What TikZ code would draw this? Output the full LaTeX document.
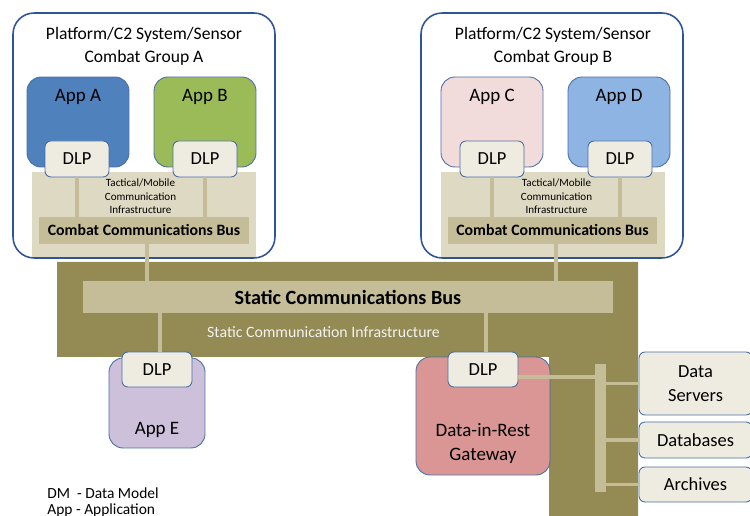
\documentclass[tikz,border=0pt]{standalone}
\usepackage{fontspec}
\setmainfont{Carlito}
\usetikzlibrary{positioning}

\definecolor{grpline}{HTML}{2F5597}
\definecolor{boxline}{HTML}{4A6FA5}
\definecolor{appblue}{HTML}{4F81BD}
\definecolor{appgreen}{HTML}{9BBB59}
\definecolor{apppink}{HTML}{F2DCDB}
\definecolor{applight}{HTML}{8DB4E2}
\definecolor{applilac}{HTML}{CCC0DA}
\definecolor{gatered}{HTML}{DA9694}
\definecolor{dlpfill}{HTML}{EEECE1}
\definecolor{tacfill}{HTML}{DDD9C3}
\definecolor{busfill}{HTML}{C4BD97}
\definecolor{staticfill}{HTML}{948A54}
\definecolor{infratext}{HTML}{F2F2F2}

\begin{document}
\begin{tikzpicture}[x=0.02cm, y=-0.02cm,
    group/.style={draw=grpline, line width=0.9pt, fill=white, rounded corners=0.42cm,
        minimum width=5.24cm, minimum height=4.9cm},
    app/.style={draw=boxline, line width=0.5pt, rounded corners=0.28cm,
        minimum width=2.04cm, minimum height=1.8cm},
    apptext/.style={anchor=base, inner sep=0pt, font=\fontsize{10.8}{12}\selectfont},
    dlp/.style={draw=boxline, line width=0.5pt, fill=dlpfill, rounded corners=0.12cm,
        minimum width=1.28cm, minimum height=0.72cm, font=\fontsize{10.5}{12}\selectfont},
    store/.style={dlp, minimum width=2.26cm, align=center, font=\fontsize{10.5}{14}\selectfont},
    tac/.style={fill=tacfill, minimum width=4.48cm, minimum height=1.7cm},
    bus/.style={fill=busfill, minimum width=4.2cm, minimum height=0.54cm,
        font=\bfseries\fontsize{9}{11}\selectfont},
    title/.style={align=center, font=\fontsize{10}{13}\selectfont},
    tactext/.style={align=center, font=\fontsize{6.3}{7.7}\selectfont},
    link/.style={draw=busfill, line width=2.2pt}]
    \useasboundingbox (0,0) rectangle (750,516);
    \clip (0,0) rectangle (750,516);

    % Combat group A
    \node[group] (grpA) at (144,135.5) {};
    \node[title] (titleA) at (144,46.5) {Platform/C2 System/Sensor\\Combat Group A};
    \node[app, fill=appblue, label={[apptext, yshift=-0.5cm]north:App A}] (appA) at (78,122) {};
    \node[app, fill=appgreen, label={[apptext, yshift=-0.5cm]north:App B}] (appB) at (205,122) {};
    \node[tac] (tacA) at (144,214.5) {};
    \node[tactext] (tacAtxt) at (140.5,196.5) {Tactical/Mobile\\Communication\\Infrastructure};
    \node[bus] (busA) at (144,230.5) {Combat Communications Bus};
    \node[dlp] (dlpA) at (77,159) {DLP};
    \node[dlp] (dlpB) at (205,159) {DLP};

    % Combat group B
    \node[group] (grpB) at (552,135.5) {};
    \node[title] (titleB) at (553,46.5) {Platform/C2 System/Sensor\\Combat Group B};
    \node[app, fill=apppink, label={[apptext, yshift=-0.5cm]north:App C}] (appC) at (492,122) {};
    \node[app, fill=applight, label={[apptext, yshift=-0.5cm]north:App D}] (appD) at (619,122) {};
    \node[tac] (tacB) at (553,214.5) {};
    \node[tactext] (tacBtxt) at (556.5,196.5) {Tactical/Mobile\\Communication\\Infrastructure};
    \node[bus] (busB) at (552.5,230.5) {Combat Communications Bus};
    \node[dlp] (dlpC) at (492,159) {DLP};
    \node[dlp] (dlpD) at (620,159) {DLP};

    % Static communication infrastructure
    \fill[staticfill] (57,262) -- (638,262) -- (638,516) -- (549,516) -- (549,357) -- (57,357) -- cycle;
    \node[bus, minimum width=10.6cm, minimum height=0.64cm,
        font=\bfseries\fontsize{11.5}{13}\selectfont] (sbus) at (348,297) {Static Communications Bus};
    \node[text=infratext, font=\fontsize{9}{10}\selectfont] (sinfra) at (323.5,332)
        {Static Communication Infrastructure};

    % App E and gateway
    \node[app, fill=applilac, minimum width=1.92cm,
        label={[apptext, yshift=0.28cm]south:App E}] (appE) at (157,403) {};
    \node[dlp, minimum width=1.4cm, minimum height=0.7cm] (dlpE) at (157,369.5) {DLP};
    \node[app, fill=gatered, minimum width=2.68cm, minimum height=2.36cm,
        label={[apptext, anchor=south, align=center, yshift=0.24cm,
        font=\fontsize{10.8}{13.6}\selectfont]south:Data-in-Rest\\Gateway}] (gate) at (483,416) {};
    \node[dlp, minimum width=1.4cm, minimum height=0.7cm] (dlpF) at (483,369.5) {DLP};

    % Storage
    \node[fill=busfill, inner sep=0pt, minimum width=0.22cm, minimum height=2.56cm] (sbar) at (600.5,428) {};
    \node[store, minimum height=1.26cm] (dsrv) at (695.5,383.5) {Data\\Servers};
    \node[store] (dbase) at (695.5,440) {Databases};
    \node[store, minimum height=0.7cm] (arch) at (695.5,484.5) {Archives};

    % Links
    \draw[link] (dlpA.south) -- (dlpA.south |- busA.north);
    \draw[link] (dlpB.south) -- (dlpB.south |- busB.north);
    \draw[link] (dlpC.south) -- (dlpC.south |- busB.north);
    \draw[link] (dlpD.south) -- (dlpD.south |- busB.north);
    \draw[link] ([xshift=0.06cm]busA.south) -- ([xshift=0.06cm]busA.south |- sbus.north);
    \draw[link] ([xshift=0.07cm]busB.south) -- ([xshift=0.07cm]busB.south |- sbus.north);
    \draw[link] ([xshift=0.06cm]dlpE.north) -- ([xshift=0.06cm]dlpE.north |- sbus.south);
    \draw[link] ([xshift=0.06cm]dlpF.north) -- ([xshift=0.06cm]dlpF.north |- sbus.south);
    \draw[link] ([yshift=-0.15cm]dlpF.east) -- ([yshift=-0.15cm]dlpF.east -| sbar.west);
    \draw[link] (dsrv.west) -- (dsrv.west -| sbar.east);
    \draw[link] (dbase.west) -- (dbase.west -| sbar.east);
    \draw[link] (arch.west) -- (arch.west -| sbar.east);

    % Legend
    \node[anchor=north west, align=left, inner sep=0pt, font=\fontsize{8.8}{9.4}\selectfont] (legend)
        at (47,487) {DM\ \ - Data Model\\App - Application};
\end{tikzpicture}
\end{document}
